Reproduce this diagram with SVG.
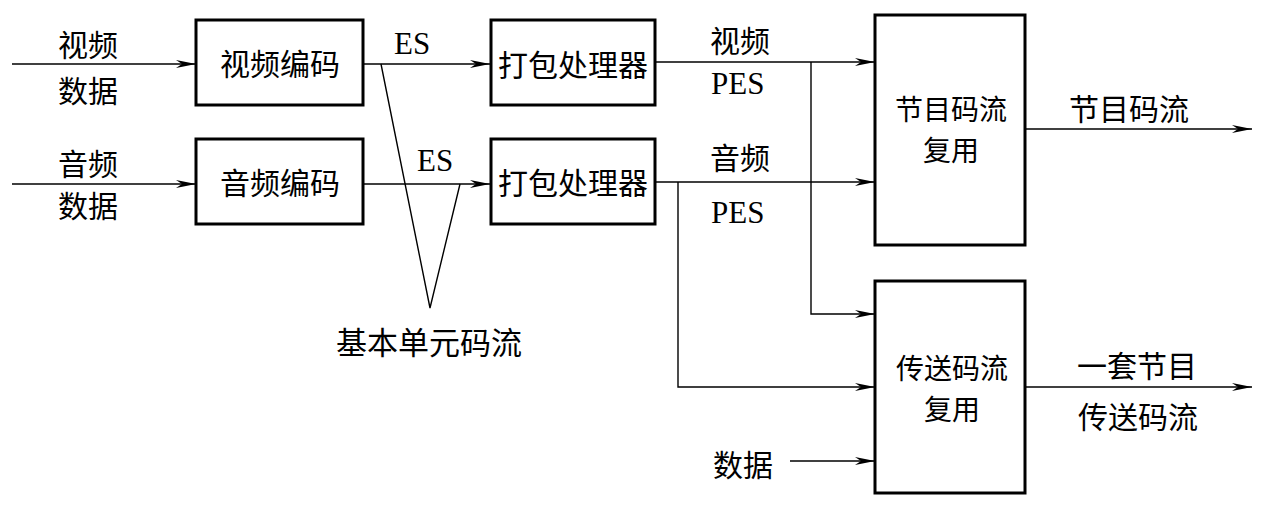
<svg xmlns="http://www.w3.org/2000/svg" width="1261" height="510" viewBox="0 0 1261 510">
<style>
.box{fill:#fff;stroke:#000;stroke-width:3}
.ln{fill:none;stroke:#000;stroke-width:1.4}
.cn{font-family:"Noto Sans CJK SC","Noto Sans CJK JP",sans-serif;font-size:30px;fill:#000;text-anchor:middle;dominant-baseline:central}
.cn2{font-family:"Noto Sans CJK SC","Noto Sans CJK JP",sans-serif;font-size:28px;fill:#000;text-anchor:middle;dominant-baseline:central}
.lt{font-family:"Liberation Serif",serif;font-size:31px;fill:#000}
</style>
<defs>
<marker id="ar" markerUnits="userSpaceOnUse" markerWidth="22" markerHeight="10" refX="20" refY="5" orient="auto">
<path d="M0,1 L20,5 L0,9 L6,5 z" fill="#000"/>
</marker>
</defs>
<rect width="1261" height="510" fill="#fff"/>
<g id="connectors">
<path class="ln" d="M12,64 H196" marker-end="url(#ar)"/>
<path class="ln" d="M12,184 H196" marker-end="url(#ar)"/>
<path class="ln" d="M363,64 H490" marker-end="url(#ar)"/>
<path class="ln" d="M363,184 H490" marker-end="url(#ar)"/>
<path class="ln" d="M381,64 L430,308 L460,184"/>
<path class="ln" d="M655,62 H875" marker-end="url(#ar)"/>
<path class="ln" d="M811,62 V314 H875" marker-end="url(#ar)"/>
<path class="ln" d="M655,182 H875" marker-end="url(#ar)"/>
<path class="ln" d="M678,182 V387 H875" marker-end="url(#ar)"/>
<path class="ln" d="M790,461 H875" marker-end="url(#ar)"/>
<path class="ln" d="M1026,129 H1252" marker-end="url(#ar)"/>
<path class="ln" d="M1026,387 H1252" marker-end="url(#ar)"/>
</g>
<g id="labels">
<text class="cn" x="88" y="43">视频</text>
<text class="cn" x="88" y="89">数据</text>
<text class="cn" x="88" y="162">音频</text>
<text class="cn" x="88" y="204">数据</text>
<text class="lt" x="394" y="54">ES</text>
<text class="lt" x="417" y="171">ES</text>
<text class="cn" x="429" y="340" style="font-size:31px">基本单元码流</text>
<text class="cn" x="740" y="39">视频</text>
<text class="lt" x="711" y="94">PES</text>
<text class="cn" x="740" y="156">音频</text>
<text class="lt" x="711" y="223">PES</text>
<text class="cn" x="1129" y="107">节目码流</text>
<text class="cn" x="1137" y="364">一套节目</text>
<text class="cn" x="1138" y="415">传送码流</text>
<text class="cn" x="743" y="463">数据</text>
</g>
<g id="video-encoder">
<rect class="box" x="196" y="20" width="167" height="85"/>
<text class="cn" x="280" y="62">视频编码</text>
</g>
<g id="audio-encoder">
<rect class="box" x="196" y="139" width="167" height="85"/>
<text class="cn" x="280" y="181">音频编码</text>
</g>
<g id="video-packetizer">
<rect class="box" x="491" y="20" width="164" height="85"/>
<text class="cn" x="573" y="63">打包处理器</text>
</g>
<g id="audio-packetizer">
<rect class="box" x="491" y="139" width="164" height="85"/>
<text class="cn" x="573" y="181">打包处理器</text>
</g>
<g id="program-mux">
<rect class="box" x="875" y="15" width="150" height="230"/>
<text class="cn2"><tspan x="951" y="108">节目码流</tspan><tspan x="951" y="149">复用</tspan></text>
</g>
<g id="transport-mux">
<rect class="box" x="875" y="281" width="150" height="212"/>
<text class="cn2"><tspan x="952" y="367">传送码流</tspan><tspan x="952" y="408">复用</tspan></text>
</g>
</svg>
